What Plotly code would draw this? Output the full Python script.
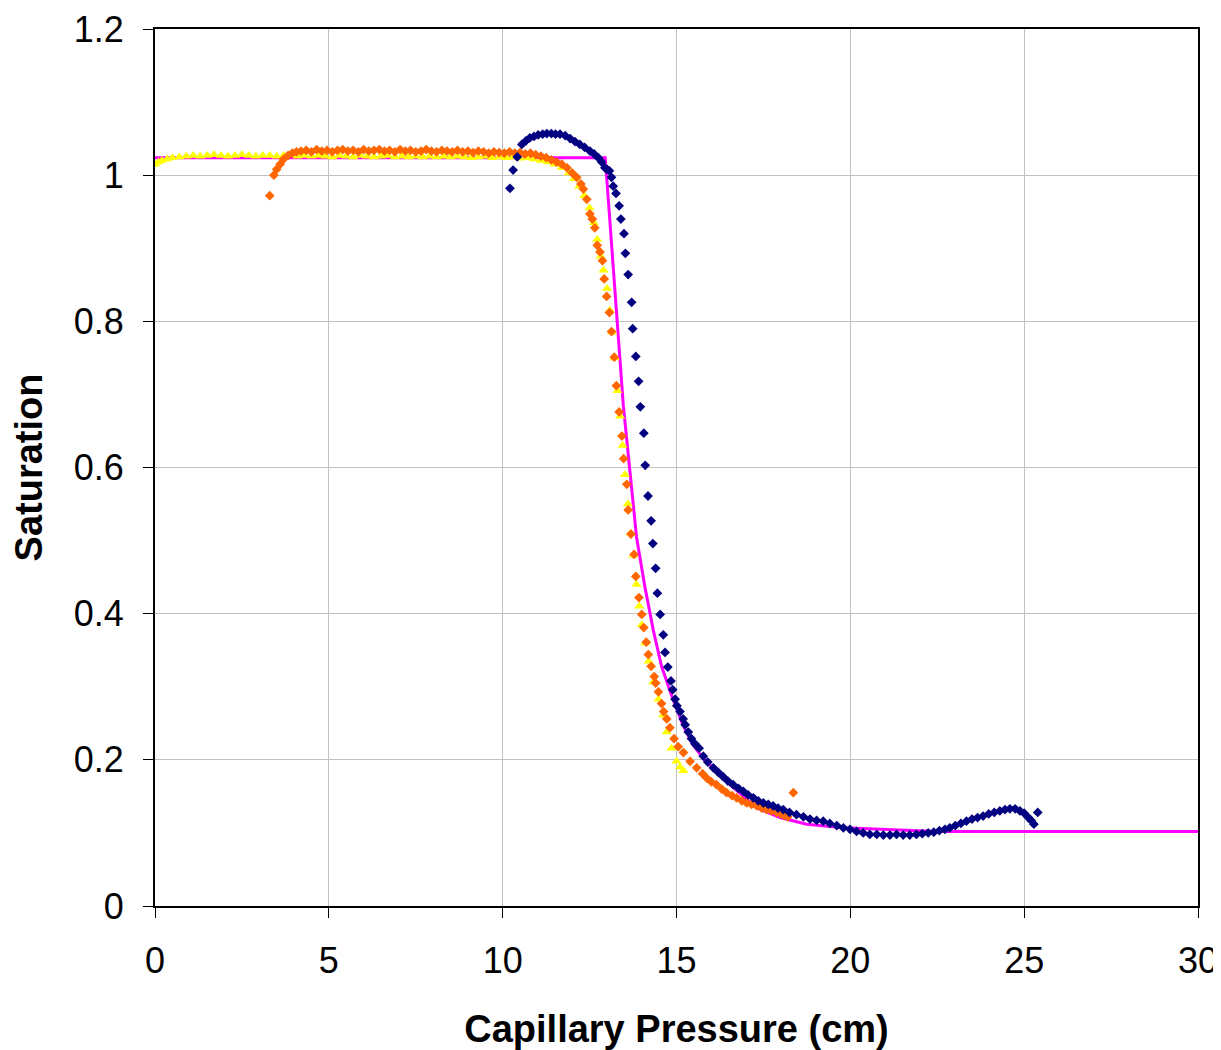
import plotly.graph_objects as go

# yellow triangles
p_yellow = [0.0, 0.1, 0.2, 0.35, 0.5, 0.7, 0.9, 1.1, 1.3, 1.5, 1.7, 1.9, 2.1, 2.3, 2.5, 2.7, 2.9, 3.1, 3.3, 3.5,
            3.7, 3.9, 4.1, 4.3, 4.5, 4.7, 4.9, 5.1, 5.3, 5.5, 5.7, 5.9, 6.1, 6.3, 6.5, 6.7, 6.9, 7.1, 7.3, 7.5,
            7.7, 7.9, 8.1, 8.3, 8.5, 8.7, 8.9, 9.1, 9.3, 9.5, 9.7, 9.9, 10.1, 10.3, 10.5, 10.7, 10.9, 11.1, 11.3,
            11.5, 11.7, 11.9, 12.05, 12.2, 12.35, 12.5, 12.62, 12.72, 12.82, 12.9, 13.0, 13.08, 13.15, 13.22,
            13.3, 13.38, 13.45, 13.52, 13.6, 13.68, 13.76, 13.85, 13.93, 14.0, 14.1, 14.2, 14.33, 14.48, 14.62,
            14.72, 14.86, 15.0, 15.1, 15.2]
s_yellow = [1.015, 1.018, 1.02, 1.022, 1.024, 1.025, 1.026, 1.027, 1.026, 1.027, 1.028, 1.027, 1.026, 1.027, 1.028, 1.027, 1.026, 1.027, 1.027, 1.026,
            1.027, 1.028, 1.026, 1.027, 1.026, 1.027, 1.026, 1.025, 1.027, 1.026, 1.025, 1.027, 1.026, 1.025, 1.026, 1.027, 1.025, 1.026, 1.025, 1.026,
            1.025, 1.026, 1.025, 1.026, 1.025, 1.026, 1.025, 1.024, 1.025, 1.026, 1.024, 1.025, 1.024, 1.025, 1.023, 1.024, 1.022, 1.02, 1.018,
            1.015, 1.01, 1.003, 0.995, 0.985, 0.972, 0.955, 0.935, 0.912, 0.889, 0.87, 0.845, 0.815, 0.785, 0.75,
            0.705, 0.67, 0.63, 0.59, 0.55, 0.51, 0.48, 0.44, 0.41, 0.385, 0.36, 0.335, 0.306, 0.283, 0.261,
            0.238, 0.216, 0.198, 0.19, 0.185]

# orange diamonds
p_orange = [3.3, 3.42, 3.5, 3.6, 3.7, 3.83, 3.95, 4.07, 4.2, 4.35, 4.5, 4.65, 4.8, 4.95, 5.1, 5.25, 5.4, 5.55, 5.7, 5.85,
            6.0, 6.15, 6.3, 6.45, 6.6, 6.75, 6.9, 7.05, 7.2, 7.35, 7.5, 7.65, 7.8, 7.95, 8.1, 8.25, 8.4, 8.55, 8.7, 8.85,
            9.0, 9.15, 9.3, 9.45, 9.6, 9.75, 9.9, 10.05, 10.2, 10.35, 10.5, 10.65, 10.8, 10.95, 11.1, 11.25, 11.4, 11.55, 11.7, 11.85,
            12.0, 12.13, 12.25, 12.32, 12.42, 12.51, 12.58, 12.65, 12.72, 12.8, 12.87, 12.92, 12.99, 13.07, 13.13, 13.21, 13.27, 13.35, 13.43, 13.48,
            13.57, 13.61, 13.69, 13.78, 13.83, 13.92, 14.0, 14.06, 14.13, 14.19, 14.27, 14.36, 14.4, 14.48, 14.57, 14.63, 14.72, 14.81, 14.93, 15.05,
            15.2, 15.39, 15.58, 15.75, 15.87, 16.0, 16.15, 16.3, 16.44, 16.6, 16.73, 16.88, 17.02, 17.16, 17.31, 17.45, 17.59, 17.73, 17.88, 18.0,
            18.1, 18.2, 18.36]
s_orange = [0.972, 1.0, 1.008, 1.015, 1.022, 1.027, 1.03, 1.032, 1.033, 1.034, 1.032, 1.035, 1.033, 1.034, 1.032, 1.034, 1.035, 1.033, 1.034, 1.032,
            1.035, 1.033, 1.034, 1.035, 1.033, 1.034, 1.032, 1.035, 1.033, 1.034, 1.032, 1.033, 1.035, 1.033, 1.032, 1.034, 1.033, 1.032, 1.034, 1.032,
            1.033, 1.031, 1.033, 1.032, 1.03, 1.032, 1.031, 1.03, 1.032, 1.03, 1.031, 1.029, 1.03, 1.028, 1.026, 1.024, 1.021, 1.018, 1.015, 1.01,
            1.003, 0.997, 0.988, 0.981, 0.967, 0.947, 0.94, 0.928, 0.904, 0.895, 0.883, 0.858, 0.834, 0.812, 0.786, 0.751, 0.712, 0.676, 0.643, 0.612,
            0.577, 0.542, 0.509, 0.481, 0.451, 0.422, 0.399, 0.381, 0.361, 0.344, 0.328, 0.314, 0.305, 0.293, 0.277, 0.266, 0.256, 0.244, 0.229, 0.218,
            0.21, 0.198, 0.189, 0.181, 0.175, 0.17, 0.166, 0.16, 0.155, 0.151, 0.148, 0.144, 0.141, 0.139, 0.137, 0.134, 0.132, 0.13, 0.128, 0.126,
            0.124, 0.122, 0.155]

# navy diamonds
p_navy = [10.21, 10.3, 10.42, 10.55, 10.67, 10.78, 10.9, 11.02, 11.15, 11.27, 11.4, 11.52, 11.65, 11.8, 11.94, 12.08, 12.22, 12.36, 12.51, 12.63,
          12.75, 12.85, 12.94, 13.0, 13.07, 13.13, 13.18, 13.26, 13.35, 13.4, 13.49, 13.53, 13.61, 13.71, 13.74, 13.83, 13.91, 13.96, 14.06, 14.1,
          14.18, 14.27, 14.32, 14.4, 14.45, 14.53, 14.62, 14.67, 14.75, 14.84, 14.89, 14.96, 15.01, 15.1, 15.19, 15.25, 15.34, 15.43, 15.53, 15.65,
          15.77, 15.9, 16.06, 16.2, 16.34, 16.48, 16.63, 16.78, 16.92, 17.06, 17.21, 17.35, 17.5, 17.64, 17.78, 17.92, 18.07, 18.25, 18.45, 18.65,
          18.84, 19.03, 19.22, 19.41, 19.61, 19.8, 19.99, 20.18, 20.37, 20.56, 20.76, 20.95, 21.14, 21.33, 21.52, 21.71, 21.9, 22.07, 22.24, 22.4,
          22.56, 22.72, 22.86, 23.02, 23.18, 23.34, 23.5, 23.66, 23.82, 23.98, 24.14, 24.3, 24.45, 24.59, 24.74, 24.88, 25.0, 25.12, 25.2, 25.28,
          25.39]
s_navy = [0.982, 1.007, 1.025, 1.042, 1.047, 1.051, 1.053, 1.055, 1.056, 1.057, 1.057, 1.056, 1.056, 1.054, 1.05, 1.046, 1.042, 1.038, 1.033, 1.029,
          1.024, 1.018, 1.01, 1.008, 1.006, 0.997, 0.985, 0.975, 0.958, 0.94, 0.92, 0.893, 0.864, 0.826, 0.79, 0.752, 0.718, 0.683, 0.647, 0.603,
          0.561, 0.527, 0.496, 0.462, 0.428, 0.399, 0.371, 0.347, 0.327, 0.308, 0.296, 0.283, 0.274, 0.266, 0.256, 0.248, 0.238, 0.229, 0.222, 0.216,
          0.205, 0.197, 0.189, 0.183, 0.177, 0.171, 0.166, 0.161, 0.157, 0.152, 0.148, 0.144, 0.141, 0.139, 0.137, 0.134, 0.132, 0.128, 0.125, 0.122,
          0.119, 0.117, 0.116, 0.113, 0.11, 0.107, 0.105, 0.102, 0.1, 0.098, 0.098, 0.097, 0.097, 0.098, 0.097, 0.097, 0.098, 0.099, 0.1, 0.101,
          0.103, 0.105, 0.107, 0.11, 0.113, 0.116, 0.119, 0.121, 0.123, 0.126, 0.128, 0.13, 0.132, 0.133, 0.133, 0.13, 0.127, 0.121, 0.117, 0.112,
          0.128]

# magenta fitted curve
p_fit = [0, 12.95, 13.05, 13.15, 13.28, 13.47, 13.66, 13.85, 14.09, 14.33, 14.57, 14.86, 15.19, 15.48, 15.8, 16.06, 16.54,
         17.31, 17.98, 18.74, 19.8, 20.85, 21.81, 22.5, 30]
s_fit = [1.024, 1.024, 0.959, 0.894, 0.81, 0.685, 0.595, 0.505, 0.437, 0.378, 0.328, 0.288, 0.247, 0.22, 0.2, 0.189, 0.166,
         0.134, 0.121, 0.112, 0.107, 0.105, 0.103, 0.102, 0.102]

x_ticks = [0, 5, 10, 15, 20, 25, 30]
y_ticks = [0, 0.2, 0.4, 0.6, 0.8, 1, 1.2]
y_ticktext = ['0', '0.2', '0.4', '0.6', '0.8', '1', '1.2']

assert len(p_yellow) == len(s_yellow), (len(p_yellow), len(s_yellow))
assert len(p_orange) == len(s_orange), (len(p_orange), len(s_orange))
assert len(p_navy) == len(s_navy), (len(p_navy), len(s_navy))
assert len(p_fit) == len(s_fit), (len(p_fit), len(s_fit))

font = 'Liberation Sans, Arial, sans-serif'

fig = go.Figure()
fig.add_trace(go.Scatter(x=p_fit, y=s_fit, mode='lines', line=dict(color='#FF00FF', width=3)))
fig.add_trace(go.Scatter(x=p_yellow, y=s_yellow, mode='markers',
                         marker=dict(symbol='triangle-up', size=9, color='#FFFF00')))
fig.add_trace(go.Scatter(x=p_orange, y=s_orange, mode='markers',
                         marker=dict(symbol='diamond', size=7.5, color='#FF6600')))
fig.add_trace(go.Scatter(x=p_navy, y=s_navy, mode='markers',
                         marker=dict(symbol='diamond', size=7.5, color='#000080')))

axis_style = dict(showline=True, linecolor='black', linewidth=2, mirror=True,
                  ticks='outside', ticklen=10, tickcolor='black', tickwidth=1,
                  showgrid=True, gridcolor='#c0c0c0', gridwidth=1, zeroline=False,
                  automargin=False, ticklabeloverflow='allow',
                  tickfont=dict(family=font, size=36, color='black'))

fig.update_xaxes(range=[0, 30], tickmode='array', tickvals=x_ticks, ticklabelstandoff=12,
                 title=dict(text='<b>Capillary Pressure (cm)</b>', font=dict(family=font, size=38, color='black'), standoff=35),
                 **axis_style)
fig.update_yaxes(range=[0, 1.2], tickmode='array', tickvals=y_ticks, ticktext=y_ticktext, ticklabelstandoff=12,
                 title=dict(text='<b>Saturation</b>', font=dict(family=font, size=38, color='black'), standoff=21),
                 **axis_style)
# page body adds an 8px offset, so the figure is kept 8px smaller than the window
fig.update_layout(width=1213, height=1042, showlegend=False,
                  plot_bgcolor='white', paper_bgcolor='white',
                  margin=dict(l=147, r=23, t=21, b=144))

fig.write_html('out.html')
